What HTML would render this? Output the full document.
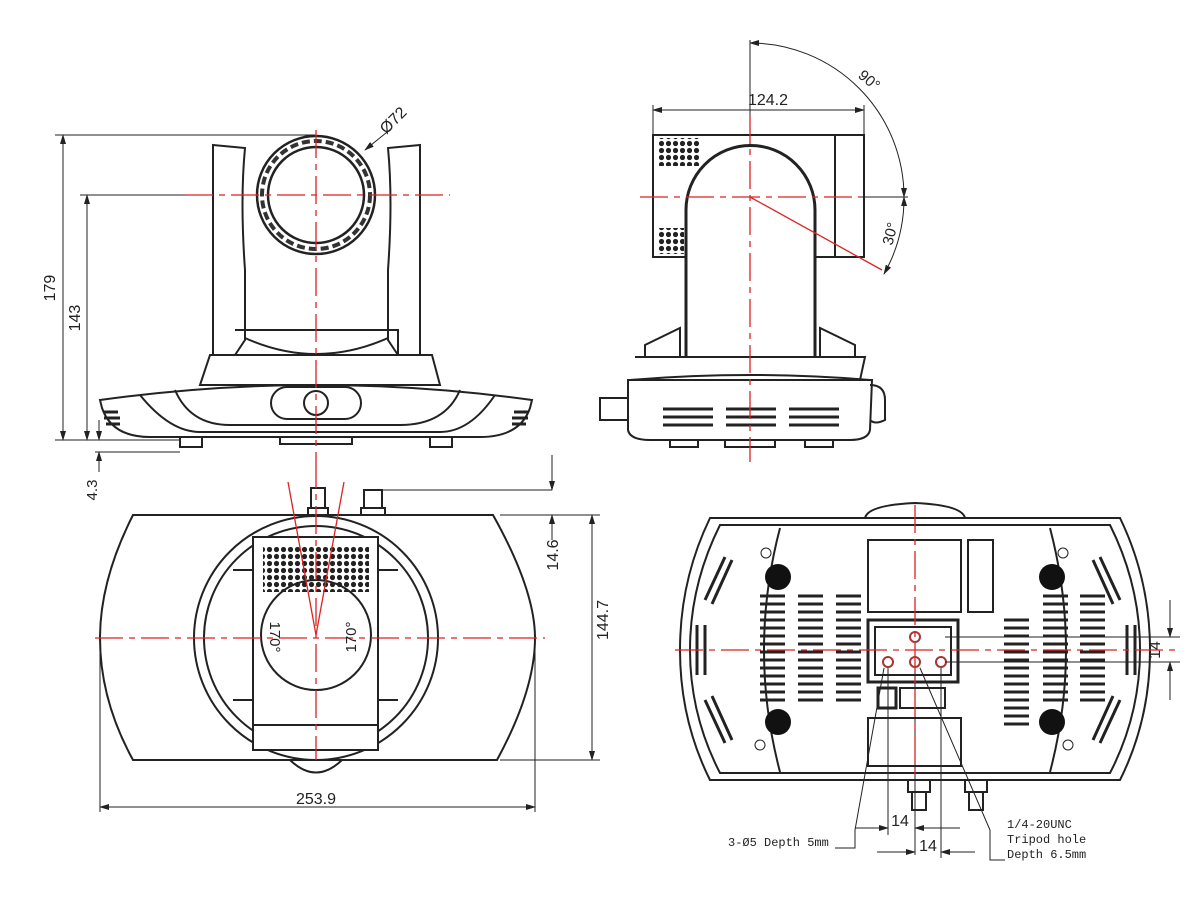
<!DOCTYPE html>
<html><head><meta charset="utf-8"><style>
html,body{margin:0;padding:0;background:#fff;}
svg{display:block;}
text{font-family:"Liberation Sans",sans-serif;fill:#222;}
.m{font-family:"Liberation Mono",monospace;}
</style></head><body>
<svg width="1200" height="897" viewBox="0 0 1200 897" xmlns="http://www.w3.org/2000/svg">
<defs>
<marker id="a" markerWidth="10" markerHeight="6" refX="9" refY="3" orient="auto-start-reverse"><path d="M0,0 L10,3 L0,6 z" fill="#222"/></marker>
<pattern id="dots" width="7" height="7" patternUnits="userSpaceOnUse"><circle cx="3.5" cy="3.5" r="2.6" fill="#222"/></pattern>
</defs>
<g fill="none" stroke="#222" stroke-width="1">
<!-- ===== FRONT VIEW ===== -->
<line x1="55" y1="135" x2="315" y2="135"/>
<line x1="63" y1="135" x2="63" y2="440" marker-start="url(#a)" marker-end="url(#a)"/>
<line x1="80" y1="195" x2="185" y2="195"/>
<line x1="87" y1="195" x2="87" y2="440" marker-start="url(#a)" marker-end="url(#a)"/>
<line x1="55" y1="440" x2="180" y2="440"/>
<line x1="95" y1="452" x2="180" y2="452"/>
<line x1="99" y1="420" x2="99" y2="440" marker-end="url(#a)"/>
<line x1="99" y1="472" x2="99" y2="452" marker-end="url(#a)"/>
<g stroke-width="2">
<path d="M213,145 L245,148 Q240,200 245,270 L245,340 L235,355 L213,355 Z"/>
<path d="M420,145 L388,148 Q393,200 388,270 L388,340 L398,355 L420,355 Z"/>
<path d="M235,330 L398,330 L398,355 L235,355"/>
<path d="M245,338 Q316,370 388,338"/>
<circle cx="316" cy="195" r="59" stroke-width="2.5"/>
<circle cx="316" cy="195" r="48" stroke-width="2.5"/>
<path d="M210,355 L432,355 L440,385 L200,385 Z"/>
<path d="M100,400 Q316,370 532,400 L530,408 Q520,437 480,437 L150,437 Q112,437 102,408 Z"/>
<path d="M140,395 Q170,432 200,432 L440,432 Q470,432 495,395"/>
<path d="M175,390 Q190,425 230,425 L400,425 Q445,425 460,390"/>
<rect x="271" y="387" width="90" height="32" rx="16"/>
<circle cx="316" cy="403" r="12"/>
<rect x="180" y="437" width="22" height="10"/>
<rect x="430" y="437" width="22" height="10"/>
<rect x="280" y="437" width="72" height="7"/>
</g>
<path d="M104,412 h14 M104,418 h16 M106,424 h14 M514,412 h14 M512,418 h16 M512,424 h14" stroke-width="3"/>
<g stroke="#333" stroke-width="4" stroke-dasharray="8,4">
<circle cx="316" cy="195" r="54"/>
</g>
<line x1="365" y1="150" x2="392" y2="128" marker-start="url(#a)"/>
<!-- ===== SIDE VIEW ===== -->
<line x1="750" y1="40" x2="750" y2="200"/>
<path d="M750,43 A154,154 0 0 1 904,197" marker-start="url(#a)" marker-end="url(#a)"/>
<path d="M904,197 A154,154 0 0 1 884,274" marker-start="url(#a)" marker-end="url(#a)"/>
<line x1="860" y1="197" x2="908" y2="197"/>
<line x1="653" y1="105" x2="653" y2="135"/>
<line x1="864" y1="105" x2="864" y2="135"/>
<line x1="653" y1="110" x2="864" y2="110" marker-start="url(#a)" marker-end="url(#a)"/>
<g stroke-width="2">
<rect x="653" y="135" width="211" height="122"/>
<line x1="835" y1="135" x2="835" y2="257"/>
<path d="M686,357 L686,210 A64,64 0 0 1 815,210 L815,357" fill="#fff" stroke-width="3"/>
<path d="M645,357 L645,345 L680,328 L680,357 M855,357 L855,345 L820,328 L820,357"/>
<path d="M635,357 L865,357 L860,380"/>
<path d="M628,380 L872,380 L870,430 Q868,440 850,440 L650,440 Q630,440 628,430 Z"/>
<path d="M630,380 Q750,370 870,380"/>
<rect x="600" y="398" width="28" height="22"/>
<path d="M870,385 Q885,385 885,400 L885,420 Q875,425 870,420"/>
<rect x="670" y="440" width="28" height="7"/><rect x="725" y="440" width="50" height="7"/><rect x="805" y="440" width="28" height="7"/>
</g>
<path d="M663,409 h50 M663,417 h50 M663,425 h50 M726,409 h50 M726,417 h50 M726,425 h50 M789,409 h50 M789,417 h50 M789,425 h50" stroke-width="3"/>
<rect x="658" y="138" width="42" height="28" fill="url(#dots)" stroke="none"/>
<rect x="658" y="228" width="26" height="26" fill="url(#dots)" stroke="none"/>
<!-- ===== TOP VIEW ===== -->
<line x1="380" y1="490" x2="552" y2="490"/>
<line x1="552" y1="455" x2="552" y2="490" marker-end="url(#a)"/>
<line x1="552" y1="540" x2="552" y2="515" marker-end="url(#a)"/>
<line x1="500" y1="515" x2="600" y2="515"/>
<line x1="500" y1="760" x2="600" y2="760"/>
<line x1="592" y1="515" x2="592" y2="760" marker-start="url(#a)" marker-end="url(#a)"/>
<line x1="100" y1="640" x2="100" y2="812"/>
<line x1="535" y1="640" x2="535" y2="812"/>
<line x1="100" y1="807" x2="535" y2="807" marker-start="url(#a)" marker-end="url(#a)"/>
<g stroke-width="2">
<path d="M133,515 L493,515 Q535,590 535,638 Q535,690 497,760 L133,760 Q100,700 100,638 Q100,580 133,515 Z"/>
<circle cx="316" cy="638" r="122"/>
<circle cx="316" cy="638" r="112"/>
<path d="M290,760 Q316,785 342,760 Z"/>
<rect x="253" y="537" width="125" height="213" fill="#fff"/>
<line x1="253" y1="725" x2="378" y2="725"/>
<circle cx="316" cy="635" r="55"/>
<path d="M233,570 L253,570 L253,700 L233,700 M398,570 L378,570 L378,700 L398,700"/>
<rect x="311" y="488" width="14" height="20"/><rect x="308" y="508" width="20" height="7"/>
<rect x="364" y="490" width="18" height="18"/><rect x="361" y="508" width="24" height="7"/>
</g>
<rect x="263" y="546" width="106" height="46" fill="url(#dots)" stroke="none"/>
<!-- ===== BOTTOM VIEW ===== -->
<g stroke-width="2">
<path d="M865,518 Q868,505 915,503 Q962,505 965,518"/>
<path d="M710,518 L1120,518 Q1150,580 1150,650 Q1150,720 1120,780 L710,780 Q680,720 680,650 Q680,580 710,518 Z"/>
<path d="M720,525 L1110,525 Q1140,585 1140,650 Q1140,715 1110,773 L720,773 Q690,715 690,650 Q690,585 720,525 Z"/>
<path d="M780,528 Q748,650 780,772 M1050,528 Q1082,650 1050,772"/>
<rect x="868" y="540" width="93" height="72"/>
<rect x="968" y="540" width="25" height="72"/>
<rect x="868" y="620" width="90" height="62" stroke-width="3"/>
<rect x="875" y="627" width="76" height="48"/>
<rect x="878" y="688" width="18" height="20" stroke-width="3"/>
<rect x="900" y="688" width="45" height="20"/>
<rect x="868" y="718" width="93" height="48"/>
<rect x="908" y="780" width="22" height="12"/><rect x="912" y="792" width="14" height="18"/>
<rect x="965" y="780" width="22" height="12"/><rect x="969" y="792" width="14" height="18"/>
<circle cx="915" cy="637" r="5" stroke="#a33"/>
<circle cx="888" cy="662" r="5" stroke="#a33"/>
<circle cx="915" cy="662" r="5" stroke="#a33"/>
<circle cx="941" cy="662" r="5" stroke="#a33"/>
</g>
<g fill="#111" stroke="none">
<circle cx="778" cy="577" r="13"/><circle cx="1052" cy="577" r="13"/>
<circle cx="778" cy="722" r="13"/><circle cx="1052" cy="722" r="13"/>
</g>
<circle cx="766" cy="553" r="5"/><circle cx="1063" cy="553" r="5"/>
<circle cx="760" cy="745" r="5"/><circle cx="1068" cy="745" r="5"/>
<g stroke-width="3">
<path id="sl" d="M760,596 h25 M760,604 h25 M760,612 h25 M760,620 h25 M760,628 h25 M760,636 h25 M760,644 h25 M760,652 h25 M760,660 h25 M760,668 h25 M760,676 h25 M760,684 h25 M760,692 h25 M760,700 h25"/>
<use href="#sl" x="38"/><use href="#sl" x="76"/>
<use href="#sl" x="244" y="24"/><use href="#sl" x="283"/><use href="#sl" x="320"/>
</g>
<path d="M725,557 L705,600 M732,560 L712,604 M1100,557 L1120,600 M1093,560 L1113,604 M725,743 L705,700 M732,740 L712,696 M1100,743 L1120,700 M1093,740 L1113,696 M697,625 L697,675 M705,625 L705,675 M1127,625 L1127,675 M1135,625 L1135,675" stroke-width="3"/>
<line x1="945" y1="637" x2="1180" y2="637"/>
<line x1="945" y1="662" x2="1180" y2="662"/>
<line x1="1170" y1="600" x2="1170" y2="637" marker-end="url(#a)"/>
<line x1="1170" y1="700" x2="1170" y2="662" marker-end="url(#a)"/>
<line x1="888" y1="668" x2="888" y2="835"/>
<line x1="915" y1="668" x2="915" y2="855"/>
<line x1="941" y1="668" x2="941" y2="858"/>
<line x1="855" y1="828" x2="888" y2="828" marker-end="url(#a)"/>
<line x1="960" y1="828" x2="915" y2="828" marker-end="url(#a)"/>
<line x1="877" y1="852" x2="915" y2="852" marker-end="url(#a)"/>
<line x1="975" y1="852" x2="941" y2="852" marker-end="url(#a)"/>
<path d="M884,668 L855,830 L855,848 L835,848"/>
<path d="M920,668 L990,830 L990,860 L1005,860"/>
</g>
<!-- red center lines -->
<g stroke="#d22" stroke-width="1.3" fill="none" stroke-dasharray="28,6,6,6">
<line x1="185" y1="195" x2="450" y2="195"/>
<line x1="316" y1="130" x2="316" y2="460"/>
<line x1="640" y1="197" x2="860" y2="197"/>
<line x1="750" y1="115" x2="750" y2="462"/>
<line x1="95" y1="638" x2="545" y2="638"/>
<line x1="316" y1="460" x2="316" y2="760"/>
<line x1="675" y1="650" x2="1180" y2="650"/>
<line x1="915" y1="505" x2="915" y2="780"/>
</g>
<g stroke="#d22" stroke-width="1.3" fill="none">
<line x1="750" y1="197" x2="882" y2="270"/>
<line x1="316" y1="635" x2="288" y2="482"/>
<line x1="316" y1="635" x2="344" y2="482"/>
</g>
<!-- labels -->
<text x="55" y="288" font-size="16" transform="rotate(-90 55 288)" text-anchor="middle">179</text>
<text x="80" y="318" font-size="16" transform="rotate(-90 80 318)" text-anchor="middle">143</text>
<text x="97" y="490" font-size="15" transform="rotate(-90 97 490)" text-anchor="middle">4.3</text>
<text x="397" y="124" font-size="16" transform="rotate(-45 397 124)" text-anchor="middle">Ø72</text>
<text x="768" y="105" font-size="16" text-anchor="middle">124.2</text>
<text x="866" y="84" font-size="15" transform="rotate(40 866 84)" text-anchor="middle">90°</text>
<text x="895" y="235" font-size="15" transform="rotate(-75 895 235)" text-anchor="middle">30°</text>
<text x="316" y="804" font-size="16" text-anchor="middle">253.9</text>
<text x="558" y="555" font-size="16" transform="rotate(-90 558 555)" text-anchor="middle">14.6</text>
<text x="608" y="620" font-size="16" transform="rotate(-90 608 620)" text-anchor="middle">144.7</text>
<text x="270" y="637" font-size="15" transform="rotate(90 270 637)" text-anchor="middle">170°</text>
<text x="356" y="637" font-size="15" transform="rotate(-90 356 637)" text-anchor="middle">170°</text>
<text x="1160" y="650" font-size="16" transform="rotate(-90 1160 650)" text-anchor="middle">14</text>
<text x="900" y="826" font-size="16" text-anchor="middle">14</text>
<text x="928" y="851" font-size="16" text-anchor="middle">14</text>
<text class="m" x="728" y="846" font-size="12">3-Ø5 Depth 5mm</text>
<text class="m" x="1007" y="828" font-size="12">1/4-20UNC</text>
<text class="m" x="1007" y="843" font-size="12">Tripod hole</text>
<text class="m" x="1007" y="858" font-size="12">Depth 6.5mm</text>
</svg>
</body></html>
